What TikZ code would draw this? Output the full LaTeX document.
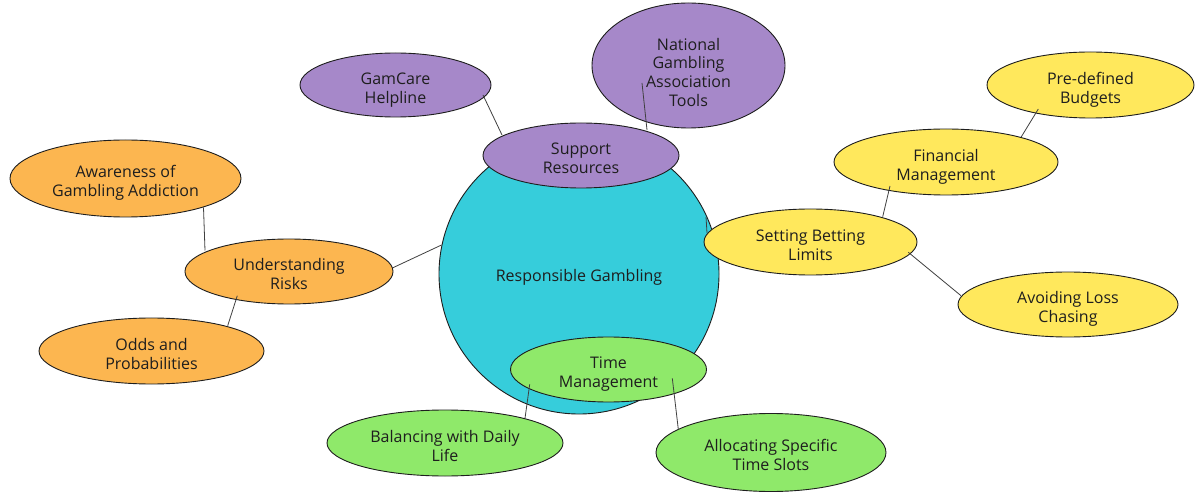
\documentclass[tikz,border=0pt]{standalone}
\usepackage{fontspec}
\setmainfont{Open Sans}
\usetikzlibrary{shapes.geometric,calc}
\definecolor{rootc}{RGB}{54,205,219}
\definecolor{purc}{RGB}{166,136,201}
\definecolor{orac}{RGB}{252,182,80}
\definecolor{yelc}{RGB}{255,232,92}
\definecolor{grec}{RGB}{143,233,106}
\definecolor{ink}{RGB}{30,30,30}
\tikzset{
  bub/.style={ellipse, draw=ink, line width=0.9pt, inner sep=0pt,
    text=ink, font=\fontsize{16}{18.7}\selectfont},
  conn/.style={draw=ink!85, line width=0.8pt},
}
\newcommand{\tx}[2][-5pt]{\raisebox{#1}[\height][\depth]{\begin{tabular}{@{}c@{}}#2\end{tabular}}}
\begin{document}
\begin{tikzpicture}[x=1pt,y=-1pt]
\useasboundingbox[fill=white] (0,0) rectangle (1204,502);
% root
\node[bub, fill=rootc, minimum width=280pt, minimum height=280pt] (root) at (579,274) {\tx[-4pt]{Responsible Gambling}};
% support
\node[bub, fill=purc, minimum width=196pt, minimum height=65pt] (sup) at (581,155.5) {\tx{Support\\Resources}};
\node[bub, fill=purc, minimum width=191pt, minimum height=64pt] (gam) at (395.5,85) {\tx{GamCare\\Helpline}};
\node[bub, fill=purc, minimum width=193pt, minimum height=125pt] (nat) at (688.5,65.5) {\tx[-9pt]{National\\Gambling\\Association\\Tools}};
% understanding
\node[bub, fill=orac, minimum width=208pt, minimum height=65pt] (und) at (289,271.5) {\tx{Understanding\\Risks}};
\node[bub, fill=orac, minimum width=231pt, minimum height=77pt] (awa) at (125.5,178.5) {\tx{Awareness of\\Gambling Addiction}};
\node[bub, fill=orac, minimum width=225pt, minimum height=66pt] (odd) at (151.5,351) {\tx{Odds and\\Probabilities}};
% betting
\node[bub, fill=yelc, minimum width=213pt, minimum height=66pt] (set) at (810.5,242) {\tx{Setting Betting\\Limits}};
\node[bub, fill=yelc, minimum width=224pt, minimum height=66pt] (fin) at (946,162) {\tx{Financial\\Management}};
\node[bub, fill=yelc, minimum width=207pt, minimum height=66pt] (bud) at (1090.5,85) {\tx{Pre-defined\\Budgets}};
\node[bub, fill=yelc, minimum width=220pt, minimum height=65pt] (avo) at (1068,304.5) {\tx{Avoiding Loss\\Chasing}};
% time
\node[bub, fill=grec, minimum width=196pt, minimum height=65pt] (tim) at (608.5,369.5) {\tx{Time\\Management}};
\node[bub, fill=grec, minimum width=236pt, minimum height=66pt] (bal) at (445,443) {\tx{Balancing with Daily\\Life}};
\node[bub, fill=grec, minimum width=230pt, minimum height=78pt] (all) at (771,452.5) {\tx{Allocating Specific\\Time Slots}};
% connectors
\draw[conn] ($(gam.center)+(87.5,10)$) -- ($(sup.center)+(-79,-20.5)$);
\draw[conn] ($(nat.center)+(-46.5,17.5)$) -- ($(sup.center)+(66,-25.5)$);
\draw[conn] ($(awa.center)+(78,29)$) -- ($(und.center)+(-84,-21)$);
\draw[conn] ($(und.center)+(-51.7,24.2)$) -- ($(odd.center)+(76.2,-25.3)$);
\draw[conn] ($(und.center)+(104,-3.8)$) -- ($(root.center)+(-137.5,-29)$);
\draw[conn] ($(root.center)+(127,-57)$) -- ($(root.center)+(128,-41)$);
\draw[conn] ($(bud.center)+(-52.2,24)$) -- ($(fin.center)+(75,-24.7)$);
\draw[conn] ($(fin.center)+(-56,24)$) -- ($(set.center)+(72.2,-25.3)$);
\draw[conn] ($(set.center)+(97.8,10.3)$) -- ($(avo.center)+(-107,-8.8)$);
\draw[conn] ($(tim.center)+(-78.8,14.8)$) -- ($(bal.center)+(80,-24.7)$);
\draw[conn] ($(tim.center)+(63.8,8.8)$) -- ($(all.center)+(-92.7,-23.2)$);
\end{tikzpicture}
\end{document}
